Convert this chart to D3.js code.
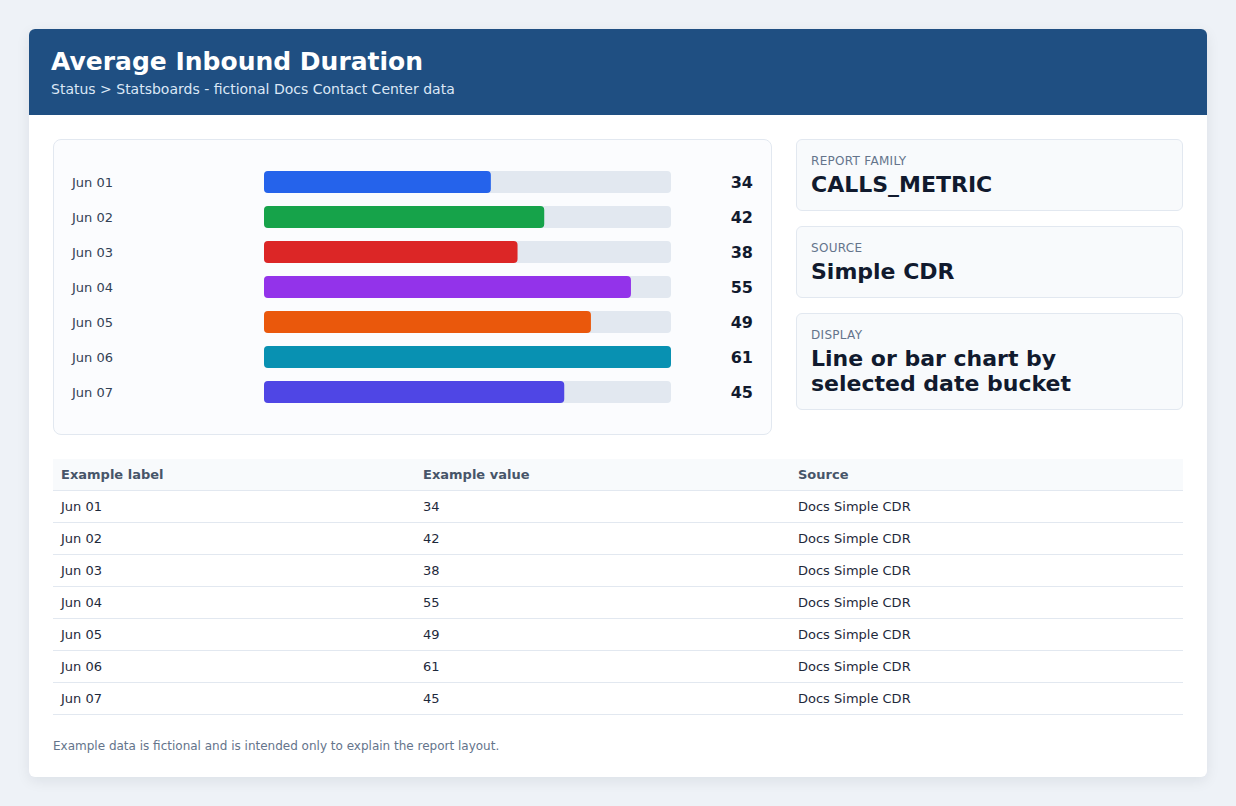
<!DOCTYPE html>
<html lang="en">
<head>
<meta charset="UTF-8">
<title>Average Inbound Duration</title>
<style>
    body {
        margin: 0;
        padding: 0;
        background: #eef2f7;
        font-family: "DejaVu Sans", sans-serif;
    }

    #card {
        position: absolute;
        left: 29px;
        top: 29px;
        width: 1178px;
        height: 748px;
        background: #fff;
        border-radius: 6px;
        box-shadow: 0 4px 14px rgba(15, 23, 42, 0.08);
        overflow: hidden;
    }

    #header {
        background: #1f4f82;
        height: 86px;
        box-sizing: border-box;
        padding: 17px 22px 0 22px;
        color: #fff;
    }

    #header h1 {
        margin: 0;
        font-size: 25px;
        line-height: 31px;
        font-weight: bold;
    }

    #header .sub {
        margin-top: 4px;
        font-size: 14px;
        color: #dbe7f6;
    }

    #body {
        padding: 24px;
    }

    #top {
        display: flex;
        gap: 24px;
    }

    #chart {
        width: 719px;
        height: 296px;
        box-sizing: border-box;
        border: 1px solid #e2e8f0;
        border-radius: 8px;
        background: #fbfcfe;
    }

    #chart svg {
        display: block;
    }

    #facts {
        width: 387px;
    }

    .fact {
        box-sizing: border-box;
        border: 1px solid #e2e8f0;
        border-radius: 6px;
        background: #f8fafc;
        padding: 13px 14px 13px 14px;
        margin-bottom: 15px;
    }

    .fact .k {
        font-size: 12px;
        color: #64748b;
        letter-spacing: 0.3px;
        line-height: 16px;
    }

    .fact .v {
        margin-top: 3px;
        font-size: 22px;
        line-height: 25px;
        font-weight: bold;
        color: #111a2e;
    }

    table {
        margin-top: 24px;
        width: 1130px;
        border-collapse: collapse;
        font-size: 13px;
        table-layout: fixed;
    }

    th {
        text-align: left;
        background: #f8fafc;
        color: #475569;
        font-weight: bold;
        height: 31px;
        padding: 0 8px;
        border-bottom: 1px solid #e2e8f0;
    }

    td {
        height: 31px;
        padding: 0 8px;
        color: #1e293b;
        border-bottom: 1px solid #e2e8f0;
    }

    #note {
        margin-top: 24px;
        font-size: 12px;
        color: #64748b;
    }
</style>
</head>
<body>
<div id="card">
    <div id="header">
        <h1>Average Inbound Duration</h1>
        <div class="sub">Status &gt; Statsboards - fictional Docs Contact Center data</div>
    </div>
    <div id="body">
        <div id="top">
            <div id="chart"></div>
            <div id="facts"></div>
        </div>
        <table id="tbl"></table>
        <div id="note">Example data is fictional and is intended only to explain the report layout.</div>
    </div>
</div>
<script src="https://d3js.org/d3.v7.min.js"></script>
<script>
    const days = ["Jun 01", "Jun 02", "Jun 03", "Jun 04", "Jun 05", "Jun 06", "Jun 07"];
    const values = [34, 42, 38, 55, 49, 61, 45];
    const barColors = ["#2563eb", "#16a34a", "#dc2626", "#9333ea", "#ea580c", "#0891b2", "#4f46e5"];
    const factLabels = ["REPORT FAMILY", "SOURCE", "DISPLAY"];
    const factValues = ["CALLS_METRIC", "Simple CDR", "Line or bar chart by selected date bucket"];
    const tableHeads = ["Example label", "Example value", "Source"];
    const sourceName = "Docs Simple CDR";

    const width = 717, height = 294;

    const svg = d3.select("#chart").append("svg")
        .attr("width", width)
        .attr("height", height);

    const y = d3.scaleBand()
        .domain(days)
        .range([24.5, 269.5])
        .paddingInner(13 / 35)
        .paddingOuter(6.5 / 35);

    const x = d3.scaleLinear()
        .domain([0, d3.max(values)])
        .range([210, 617]);

    const rows = svg.selectAll("g.row")
        .data(days)
        .join("g")
        .attr("class", "row");

    rows.append("text")
        .attr("x", 18)
        .attr("y", d => y(d) + y.bandwidth() / 2)
        .attr("dy", "0.35em")
        .style("font-size", "13px")
        .style("fill", "#334155")
        .text(d => d);

    rows.append("rect")
        .attr("x", x(0))
        .attr("y", d => y(d))
        .attr("width", x.range()[1] - x(0))
        .attr("height", y.bandwidth())
        .attr("rx", 4)
        .attr("fill", "#e2e8f0");

    rows.append("rect")
        .attr("x", x(0))
        .attr("y", d => y(d))
        .attr("width", (d, i) => x(values[i]) - x(0))
        .attr("height", y.bandwidth())
        .attr("rx", 4)
        .attr("fill", (d, i) => barColors[i]);

    rows.append("text")
        .attr("x", 699)
        .attr("y", d => y(d) + y.bandwidth() / 2)
        .attr("dy", "0.35em")
        .attr("text-anchor", "end")
        .style("font-size", "16px")
        .style("font-weight", "bold")
        .style("fill", "#111a2e")
        .text((d, i) => values[i]);

    // info cards on the right
    const facts = d3.select("#facts").selectAll("div.fact")
        .data(factLabels)
        .join("div")
        .attr("class", "fact");
    facts.append("div").attr("class", "k").text(d => d);
    facts.append("div").attr("class", "v").text((d, i) => factValues[i]);

    // table (widths exclude the 8px side padding)
    const tbl = d3.select("#tbl");
    const colW = ["346px", "359px", "377px"];
    tbl.append("thead").append("tr")
        .selectAll("th")
        .data(tableHeads)
        .join("th")
        .style("width", (d, i) => colW[i])
        .text(d => d);
    tbl.append("tbody")
        .selectAll("tr")
        .data(days)
        .join("tr")
        .selectAll("td")
        .data((d, i) => [d, values[i], sourceName])
        .join("td")
        .text(d => d);
</script>
</body>
</html>
